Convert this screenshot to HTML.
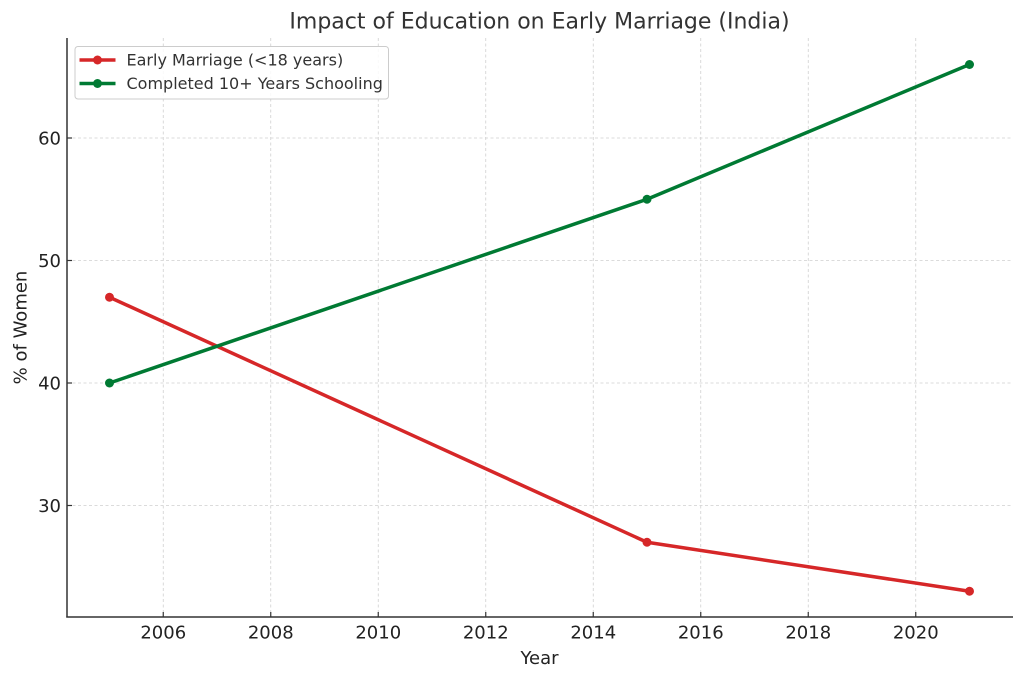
<!DOCTYPE html>
<html>
<head>
<meta charset="utf-8">
<style>
html,body{margin:0;padding:0;background:#fff;}
svg{display:block;font-family:"DejaVu Sans","Liberation Sans",sans-serif;}
</style>
</head>
<body>
<svg width="1024" height="679" viewBox="0 0 1024 679" xmlns="http://www.w3.org/2000/svg">
<rect width="1024" height="679" fill="#fff"/>
<!-- grid -->
<g stroke="#d0d0d0" stroke-width="0.8" stroke-dasharray="3,2.5" fill="none">
<line x1="163.25" y1="38" x2="163.25" y2="617"/>
<line x1="270.75" y1="38" x2="270.75" y2="617"/>
<line x1="378.25" y1="38" x2="378.25" y2="617"/>
<line x1="485.75" y1="38" x2="485.75" y2="617"/>
<line x1="593.25" y1="38" x2="593.25" y2="617"/>
<line x1="700.75" y1="38" x2="700.75" y2="617"/>
<line x1="808.25" y1="38" x2="808.25" y2="617"/>
<line x1="915.75" y1="38" x2="915.75" y2="617"/>
<line x1="67" y1="505.5" x2="1012" y2="505.5"/>
<line x1="67" y1="383" x2="1012" y2="383"/>
<line x1="67" y1="260.5" x2="1012" y2="260.5"/>
<line x1="67" y1="138" x2="1012" y2="138"/>
</g>
<!-- series -->
<polyline points="109.5,297.25 647,542.25 969.5,591.25" fill="none" stroke="#d62728" stroke-width="3.5" stroke-linejoin="round"/>
<g fill="#d62728"><circle cx="109.5" cy="297.25" r="4.5"/><circle cx="647" cy="542.25" r="4.5"/><circle cx="969.5" cy="591.25" r="4.5"/></g>
<polyline points="109.5,383 647,199.25 969.5,64.5" fill="none" stroke="#007a33" stroke-width="3.5" stroke-linejoin="round"/>
<g fill="#007a33"><circle cx="109.5" cy="383" r="4.5"/><circle cx="647" cy="199.25" r="4.5"/><circle cx="969.5" cy="64.5" r="4.5"/></g>
<!-- spines -->
<g stroke="#333" stroke-width="1.5">
<line x1="67" y1="38" x2="67" y2="617.5"/>
<line x1="66.3" y1="617" x2="1013" y2="617"/>
</g>
<!-- ticks (inward) -->
<g stroke="#333" stroke-width="1.2">
<line x1="163.25" y1="617" x2="163.25" y2="612"/>
<line x1="270.75" y1="617" x2="270.75" y2="612"/>
<line x1="378.25" y1="617" x2="378.25" y2="612"/>
<line x1="485.75" y1="617" x2="485.75" y2="612"/>
<line x1="593.25" y1="617" x2="593.25" y2="612"/>
<line x1="700.75" y1="617" x2="700.75" y2="612"/>
<line x1="808.25" y1="617" x2="808.25" y2="612"/>
<line x1="915.75" y1="617" x2="915.75" y2="612"/>
<line x1="67" y1="505.5" x2="72" y2="505.5"/>
<line x1="67" y1="383" x2="72" y2="383"/>
<line x1="67" y1="260.5" x2="72" y2="260.5"/>
<line x1="67" y1="138" x2="72" y2="138"/>
</g>
<!-- tick labels -->
<g fill="#222" font-size="18" text-anchor="middle">
<text x="163.25" y="638.5">2006</text>
<text x="270.75" y="638.5">2008</text>
<text x="378.25" y="638.5">2010</text>
<text x="485.75" y="638.5">2012</text>
<text x="593.25" y="638.5">2014</text>
<text x="700.75" y="638.5">2016</text>
<text x="808.25" y="638.5">2018</text>
<text x="915.75" y="638.5">2020</text>
</g>
<g fill="#222" font-size="18" text-anchor="end">
<text x="61" y="512">30</text>
<text x="61" y="389.5">40</text>
<text x="61" y="267">50</text>
<text x="61" y="144.5">60</text>
</g>
<!-- axis labels -->
<text x="539.5" y="664" font-size="18" fill="#222" text-anchor="middle">Year</text>
<text transform="translate(26.5,327.5) rotate(-90)" font-size="18" fill="#222" text-anchor="middle">% of Women</text>
<!-- title -->
<text x="539.5" y="28.5" font-size="22" fill="#333" text-anchor="middle">Impact of Education on Early Marriage (India)</text>
<!-- legend -->
<rect x="75" y="46.5" width="313.5" height="52.5" rx="3" ry="3" fill="#fff" fill-opacity="0.85" stroke="#cccccc" stroke-width="1"/>
<line x1="79.5" y1="60" x2="115.5" y2="60" stroke="#d62728" stroke-width="3.5"/>
<circle cx="97.5" cy="60" r="4.5" fill="#d62728"/>
<line x1="79.5" y1="83.5" x2="115.5" y2="83.5" stroke="#007a33" stroke-width="3.5"/>
<circle cx="97.5" cy="83.5" r="4.5" fill="#007a33"/>
<g fill="#333" font-size="16">
<text x="126.5" y="65.5">Early Marriage (&lt;18 years)</text>
<text x="126.5" y="89">Completed 10+ Years Schooling</text>
</g>
</svg>
</body>
</html>
